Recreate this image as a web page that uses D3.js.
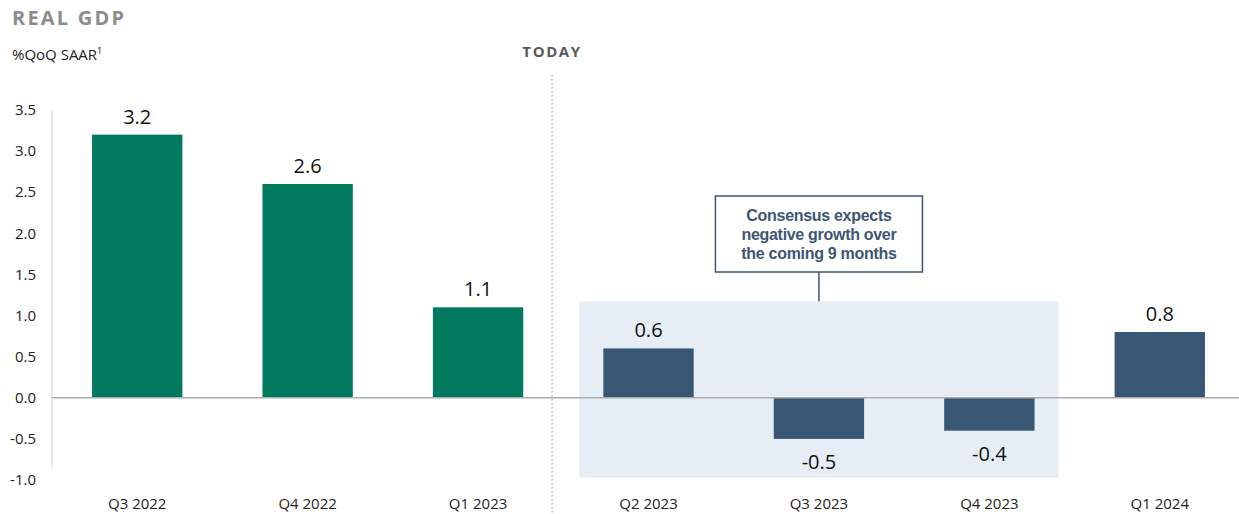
<!DOCTYPE html>
<head>
  <meta charset="utf-8">
  <script src="https://d3js.org/d3.v7.min.js"></script>
  <style>
    body { margin:0; background:#fff; }
    svg text { font-family: "Open Sans", "Noto Sans", sans-serif; }
  </style>
</head>
<body>
  <svg id="chart"></svg>
  <script>
  var quarters = ["Q3 2022", "Q4 2022", "Q1 2023", "Q2 2023", "Q3 2023", "Q4 2023", "Q1 2024"];
  var gdp = [3.2, 2.6, 1.1, 0.6, -0.5, -0.4, 0.8];
  var isForecast = [false, false, false, true, true, true, true];
  var yTicks = [-1.0, -0.5, 0.0, 0.5, 1.0, 1.5, 2.0, 2.5, 3.0, 3.5];
  var shadedQuarters = ["Q2 2023", "Q4 2023"];
  var noteLines = ["Consensus expects", "negative growth over", "the coming 9 months"];

  var width = 1239, height = 514;
  var svg = d3.select("#chart").attr("width", width).attr("height", height);

  var x = d3.scaleBand()
    .domain(quarters)
    .range([52, 1245])
    .paddingInner(0.47)
    .paddingOuter(0.235);

  var y = d3.scaleLinear()
    .domain([-1, 3.5])
    .range([480, 110]);

  // shaded forecast window
  var shadeX0 = x(shadedQuarters[0]) - (x.step() - x.bandwidth()) * 0.3;
  var shadeX1 = x(shadedQuarters[1]) + x.bandwidth() + (x.step() - x.bandwidth()) * 0.3;
  svg.append("rect")
    .attr("x", shadeX0)
    .attr("y", y(1.17))
    .attr("width", shadeX1 - shadeX0)
    .attr("height", y(-0.97) - y(1.17))
    .attr("fill", "#e6edf4");

  // title
  svg.append("text")
    .attr("x", 12).attr("y", 25)
    .attr("font-size", 20).attr("font-weight", 700)
    .attr("letter-spacing", 2.2)
    .attr("fill", "#8c8c8c")
    .text("REAL GDP");

  var sub = svg.append("text")
    .attr("x", 12).attr("y", 60)
    .attr("font-size", 15).attr("fill", "#222");
  sub.append("tspan").text("%QoQ SAAR");
  sub.append("tspan").attr("font-size", 9).attr("dy", -6).text("1");

  // y axis
  svg.append("line")
    .attr("x1", 52).attr("x2", 52)
    .attr("y1", y(3.5)).attr("y2", y(-1) - 12)
    .attr("stroke", "#d0d0d0").attr("stroke-width", 1);

  svg.selectAll(".ytick")
    .data(yTicks)
    .enter().append("text")
    .attr("class", "ytick")
    .attr("x", 36)
    .attr("y", function(d) { return y(d); })
    .attr("dy", "0.35em")
    .attr("text-anchor", "end")
    .attr("font-size", 15)
    .attr("fill", "#222")
    .text(function(d) { return d.toFixed(1); });

  // TODAY divider
  var todayX = x("Q1 2023") + x.bandwidth() + (x.step() - x.bandwidth()) * 0.36;
  svg.append("line")
    .attr("x1", todayX).attr("x2", todayX)
    .attr("y1", 75).attr("y2", height)
    .attr("stroke", "#bbb").attr("stroke-width", 1.5)
    .attr("stroke-dasharray", "1.5,2.5");

  svg.append("text")
    .attr("x", todayX).attr("y", 57)
    .attr("text-anchor", "middle")
    .attr("font-size", 15).attr("font-weight", 700)
    .attr("letter-spacing", 1.6)
    .attr("fill", "#595959")
    .text("TODAY");

  // bars
  var data = quarters.map(function(q, i) { return {q: q, v: gdp[i], f: isForecast[i]}; });

  svg.selectAll(".bar")
    .data(data)
    .enter().append("rect")
    .attr("class", "bar")
    .attr("x", function(d) { return x(d.q); })
    .attr("width", x.bandwidth())
    .attr("y", function(d) { return y(Math.max(0, d.v)); })
    .attr("height", function(d) { return Math.abs(y(d.v) - y(0)); })
    .attr("fill", function(d) { return d.f ? "#375775" : "#007a5f"; });

  // zero line
  svg.append("line")
    .attr("x1", 52).attr("x2", width)
    .attr("y1", y(0)).attr("y2", y(0))
    .attr("stroke", "#ababab").attr("stroke-width", 1.5);

  // value labels
  svg.selectAll(".val")
    .data(data)
    .enter().append("text")
    .attr("class", "val")
    .attr("x", function(d) { return x(d.q) + x.bandwidth() / 2; })
    .attr("y", function(d) { return d.v >= 0 ? y(d.v) - 11 : y(d.v) + 30; })
    .attr("text-anchor", "middle")
    .attr("font-size", 20)
    .attr("fill", "#111")
    .text(function(d) { return d.v.toFixed(1); });

  // x labels
  svg.selectAll(".xlab")
    .data(quarters)
    .enter().append("text")
    .attr("class", "xlab")
    .attr("x", function(d) { return x(d) + x.bandwidth() / 2; })
    .attr("y", 509)
    .attr("text-anchor", "middle")
    .attr("font-size", 15)
    .attr("fill", "#222")
    .text(function(d) { return d; });

  // annotation
  var noteCx = x("Q3 2023") + x.bandwidth() / 2;
  var boxW = 207, boxTop = 196, boxH = 76;
  svg.append("line")
    .attr("x1", noteCx).attr("x2", noteCx)
    .attr("y1", boxTop + boxH).attr("y2", y(1.17))
    .attr("stroke", "#3c5874").attr("stroke-width", 1.5);
  svg.append("rect")
    .attr("x", noteCx - boxW / 2).attr("y", boxTop)
    .attr("width", boxW).attr("height", boxH)
    .attr("fill", "#fff")
    .attr("stroke", "#3c5874").attr("stroke-width", 1.5);
  svg.selectAll(".note")
    .data(noteLines)
    .enter().append("text")
    .attr("class", "note")
    .attr("x", noteCx)
    .attr("y", function(d, i) { return boxTop + 25 + i * 19; })
    .attr("text-anchor", "middle")
    .attr("font-size", 16)
    .attr("font-weight", 700)
    .attr("letter-spacing", -0.3)
    .style("font-family", "'Liberation Sans', Arial, sans-serif")
    .attr("fill", "#3d5673")
    .text(function(d) { return d; });
  </script>
</body>
